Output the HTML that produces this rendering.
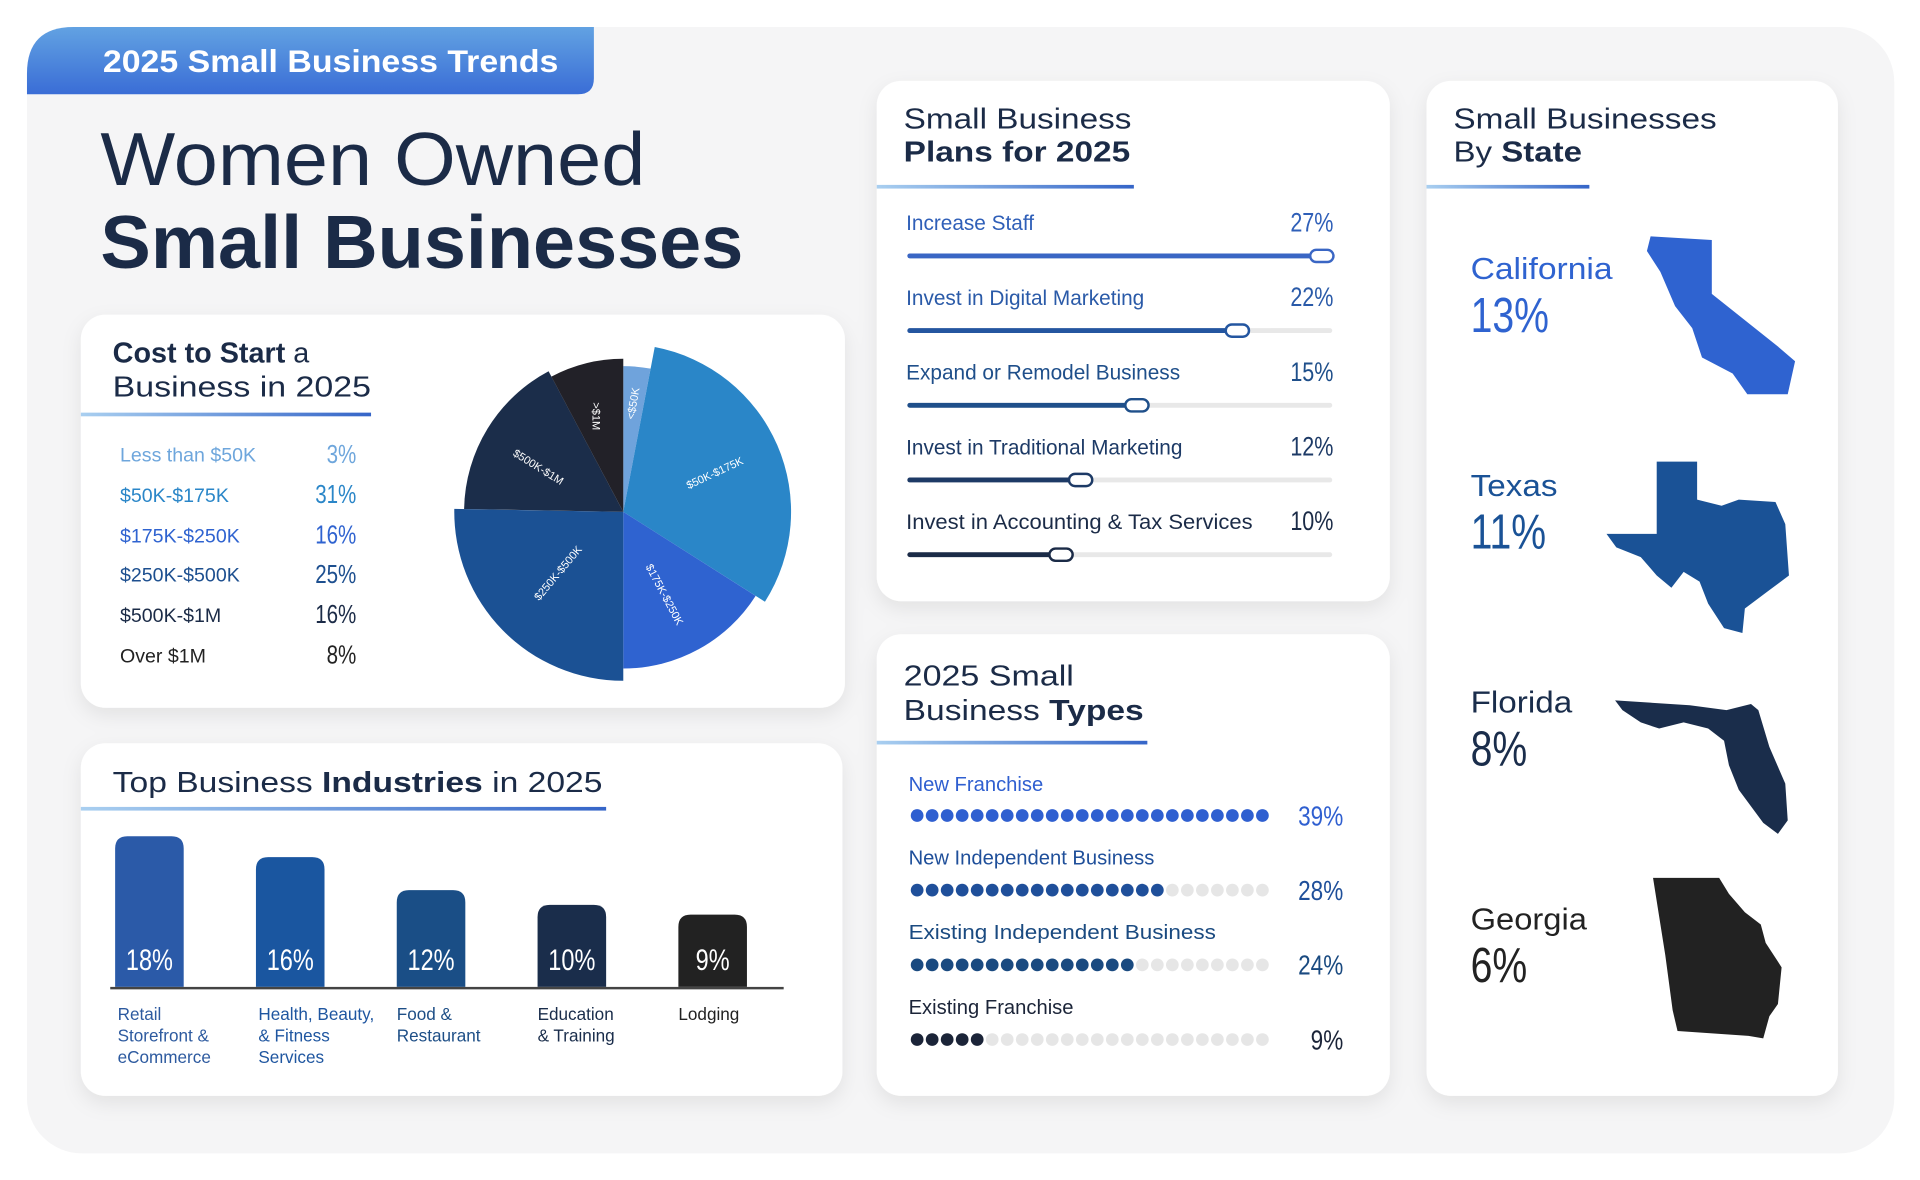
<!DOCTYPE html>
<html><head><meta charset="utf-8"><style>
html,body{margin:0;padding:0;background:#fff;}
svg{display:block;font-family:"Liberation Sans",sans-serif;}
.n text{transform-box:fill-box;transform-origin:right center;transform:scaleX(0.8);}
.nl text{transform-box:fill-box;transform-origin:left center;transform:scaleX(0.8);}
.nc text{transform-box:fill-box;transform-origin:center center;transform:scaleX(0.8);}
</style></head><body>
<svg width="1920" height="1180" viewBox="0 0 1568 963.7" xmlns="http://www.w3.org/2000/svg">
<defs>
<linearGradient id="ban" x1="0" y1="0" x2="0" y2="1"><stop offset="0" stop-color="#62a2e2"/><stop offset="1" stop-color="#3a6dd6"/></linearGradient>
<linearGradient id="ul" x1="0" y1="0" x2="1" y2="0"><stop offset="0" stop-color="#a9cff0"/><stop offset="1" stop-color="#3565c8"/></linearGradient>
<filter id="sh" x="-10%" y="-10%" width="120%" height="130%"><feDropShadow dx="0" dy="6" stdDeviation="8" flood-color="#000" flood-opacity="0.08"/></filter>
</defs>
<rect x="22" y="22" width="1525" height="920" rx="45" fill="#f5f5f6"/>
<path d="M22 77 V60 Q22 22 60 22 H485 V64 Q485 77 472 77 Z" fill="url(#ban)"/>
<text x="84" y="59" textLength="372" lengthAdjust="spacingAndGlyphs" font-size="26" font-weight="bold" fill="#fff">2025 Small Business Trends</text>
<text x="82" y="151" font-size="61" fill="#1b2b47" textLength="445" lengthAdjust="spacingAndGlyphs">Women Owned</text>
<text x="82" y="219" font-size="61" font-weight="bold" fill="#1b2b47" textLength="525" lengthAdjust="spacingAndGlyphs">Small Businesses</text>

<g filter="url(#sh)">
<rect x="66" y="257" width="624" height="321" rx="20" fill="#fff"/>
<rect x="66" y="607" width="622" height="288" rx="20" fill="#fff"/>
<rect x="716" y="66" width="419" height="425" rx="20" fill="#fff"/>
<rect x="716" y="518" width="419" height="377" rx="20" fill="#fff"/>
<rect x="1165" y="66" width="336" height="829" rx="20" fill="#fff"/>
</g>

<!-- Cost card -->
<text x="92" y="296" font-size="23.5" fill="#1b2b47"><tspan font-weight="bold">Cost to Start</tspan> a</text>
<text x="92" y="324" font-size="23.5" fill="#1b2b47" textLength="211" lengthAdjust="spacingAndGlyphs">Business in 2025</text>
<rect x="66" y="337" width="237" height="3" fill="url(#ul)"/>
<g font-size="16">
<text x="98" y="377" fill="#6ea6dc">Less than $50K</text>
<text x="98" y="410" fill="#2a86c8">$50K-$175K</text>
<text x="98" y="443" fill="#2f63d0">$175K-$250K</text>
<text x="98" y="475" fill="#1d4f8f">$250K-$500K</text>
<text x="98" y="508" fill="#1b2b47">$500K-$1M</text>
<text x="98" y="541" fill="#222">Over $1M</text>
</g>
<g class="n" font-size="21" text-anchor="end">
<text x="291" y="378" fill="#6ea6dc">3%</text>
<text x="291" y="411" fill="#2a86c8">31%</text>
<text x="291" y="444" fill="#2f63d0">16%</text>
<text x="291" y="476" fill="#1d4f8f">25%</text>
<text x="291" y="509" fill="#1b2b47">16%</text>
<text x="291" y="542" fill="#222">8%</text>
</g>
<!-- pie -->
<path d="M509 418 L509 299 A119 119 0 0 1 531.3 301.1 Z" fill="#6fa3dc"/>
<path d="M509 418 L534.7 283.4 A137 137 0 0 1 624.7 491.4 Z" fill="#2a86c8"/>
<path d="M509 418 L617.1 486.6 A128 128 0 0 1 509 546 Z" fill="#2f63d0"/>
<path d="M509 418 L509 556 A138 138 0 0 1 371 415.6 Z" fill="#1b5194"/>
<path d="M509 418 L379 415.7 A130 130 0 0 1 448 303.2 Z" fill="#1b2d4a"/>
<path d="M509 418 L450.3 307.6 A125 125 0 0 1 509 293 Z" fill="#222128"/>
<g font-size="9" fill="#fff" text-anchor="middle">
<text transform="translate(520,330) rotate(-80)">&lt;$50K</text>
<text transform="translate(585,389) rotate(-25)">$50K-$175K</text>
<text transform="translate(540,487) rotate(62)">$175K-$250K</text>
<text transform="translate(458,470) rotate(-50)">$250K-$500K</text>
<text transform="translate(438,384) rotate(32)">$500K-$1M</text>
<text transform="translate(484,340) rotate(90)">&gt;$1M</text>
</g>

<!-- Industries -->
<text x="92" y="647" font-size="23.5" fill="#1b2b47" textLength="400" lengthAdjust="spacingAndGlyphs">Top Business <tspan font-weight="bold">Industries</tspan> in 2025</text>
<rect x="66" y="659" width="429" height="3" fill="url(#ul)"/>
<path d="M94 806 V693 Q94 683 104 683 H140 Q150 683 150 693 V806 Z" fill="#2b5aa8"/>
<path d="M209 806 V710 Q209 700 219 700 H255 Q265 700 265 710 V806 Z" fill="#1a56a0"/>
<path d="M324 806 V737 Q324 727 334 727 H370 Q380 727 380 737 V806 Z" fill="#1a4e86"/>
<path d="M439 806 V749 Q439 739 449 739 H485 Q495 739 495 749 V806 Z" fill="#1a2d4b"/>
<path d="M554 806 V757 Q554 747 564 747 H600 Q610 747 610 757 V806 Z" fill="#222"/>
<rect x="90" y="806" width="550" height="2" fill="#444"/>
<g class="nc" font-size="24" fill="#fff" text-anchor="middle">
<text x="122" y="792">18%</text><text x="237" y="792">16%</text><text x="352" y="792">12%</text><text x="467" y="792">10%</text><text x="582" y="792">9%</text>
</g>
<g font-size="14">
<text x="96" y="833" fill="#2d5a9f">Retail<tspan x="96" dy="17.5">Storefront &amp;</tspan><tspan x="96" dy="17.5">eCommerce</tspan></text>
<text x="211" y="833" fill="#1f56a0">Health, Beauty,<tspan x="211" dy="17.5">&amp; Fitness</tspan><tspan x="211" dy="17.5">Services</tspan></text>
<text x="324" y="833" fill="#1d4e86">Food &amp;<tspan x="324" dy="17.5">Restaurant</tspan></text>
<text x="439" y="833" fill="#1a2d4b">Education<tspan x="439" dy="17.5">&amp; Training</tspan></text>
<text x="554" y="833" fill="#222">Lodging</text>
</g>

<!-- Plans -->
<text x="738" y="105" font-size="23.5" fill="#1b2b47" textLength="186" lengthAdjust="spacingAndGlyphs">Small Business</text>
<text x="738" y="132" font-size="23.5" font-weight="bold" fill="#1b2b47" textLength="185" lengthAdjust="spacingAndGlyphs">Plans for 2025</text>
<rect x="716" y="151" width="210" height="3" fill="url(#ul)"/>
<g font-size="17">
<text x="740" y="188" fill="#2f5fb8">Increase Staff</text>
<text x="740" y="249" fill="#2a5aa8">Invest in Digital Marketing</text>
<text x="740" y="310" fill="#1f4f8a">Expand or Remodel Business</text>
<text x="740" y="371" fill="#1d3a66">Invest in Traditional Marketing</text>
<text x="740" y="432" fill="#1b2b47" textLength="283" lengthAdjust="spacingAndGlyphs">Invest in Accounting &amp; Tax Services</text>
</g>
<g class="n" font-size="22" text-anchor="end">
<text x="1089" y="189" fill="#2f5fb8">27%</text>
<text x="1089" y="250" fill="#2a5aa8">22%</text>
<text x="1089" y="311" fill="#1f4f8a">15%</text>
<text x="1089" y="372" fill="#1d3a66">12%</text>
<text x="1089" y="433" fill="#1b2b47">10%</text>
</g>
<g>
<rect x="741" y="207" width="347" height="4" rx="2" fill="#e8e8e8"/><rect x="741" y="207" width="338" height="4" rx="2" fill="#3a66c4"/><rect x="1070" y="204" width="19" height="10" rx="5" fill="#fff" stroke="#3a66c4" stroke-width="2"/>
<rect x="741" y="268" width="347" height="4" rx="2" fill="#e8e8e8"/><rect x="741" y="268" width="269" height="4" rx="2" fill="#2456a0"/><rect x="1001" y="265" width="19" height="10" rx="5" fill="#fff" stroke="#2456a0" stroke-width="2"/>
<rect x="741" y="329" width="347" height="4" rx="2" fill="#e8e8e8"/><rect x="741" y="329" width="187" height="4" rx="2" fill="#1f4f8a"/><rect x="919" y="326" width="19" height="10" rx="5" fill="#fff" stroke="#1f4f8a" stroke-width="2"/>
<rect x="741" y="390" width="347" height="4" rx="2" fill="#e8e8e8"/><rect x="741" y="390" width="141" height="4" rx="2" fill="#1d3a66"/><rect x="873" y="387" width="19" height="10" rx="5" fill="#fff" stroke="#1d3a66" stroke-width="2"/>
<rect x="741" y="451" width="347" height="4" rx="2" fill="#e8e8e8"/><rect x="741" y="451" width="125" height="4" rx="2" fill="#1b2b47"/><rect x="857" y="448" width="19" height="10" rx="5" fill="#fff" stroke="#1b2b47" stroke-width="2"/>
</g>

<!-- Types -->
<text x="738" y="560" font-size="23.5" fill="#1b2b47" textLength="139" lengthAdjust="spacingAndGlyphs">2025 Small</text>
<text x="738" y="588" font-size="23.5" fill="#1b2b47" textLength="196" lengthAdjust="spacingAndGlyphs">Business <tspan font-weight="bold">Types</tspan></text>
<rect x="716" y="605" width="221" height="3" fill="url(#ul)"/>
<g font-size="16.5">
<text x="742" y="646" fill="#2f5fd0">New Franchise</text>
<text x="742" y="706" fill="#1f4f9a">New Independent Business</text>
<text x="742" y="767" fill="#1a4a80" textLength="251" lengthAdjust="spacingAndGlyphs">Existing Independent Business</text>
<text x="742" y="828" fill="#1b2438">Existing Franchise</text>
</g>
<g class="n" font-size="23" text-anchor="end">
<text x="1097" y="674" fill="#2f5fd0">39%</text>
<text x="1097" y="735" fill="#1f4f9a">28%</text>
<text x="1097" y="796" fill="#1a4a80">24%</text>
<text x="1097" y="857" fill="#1b2438">9%</text>
</g>
<g id="dots"></g>

<!-- State -->
<text x="1187" y="105" font-size="23.5" fill="#1b2b47" textLength="215" lengthAdjust="spacingAndGlyphs">Small Businesses</text>
<text x="1187" y="132" font-size="23.5" fill="#1b2b47" textLength="105" lengthAdjust="spacingAndGlyphs">By <tspan font-weight="bold">State</tspan></text>
<rect x="1165" y="151" width="133" height="3" fill="url(#ul)"/>
<g font-size="25">
<text x="1201" y="228" fill="#2f63d0" textLength="116" lengthAdjust="spacingAndGlyphs">California</text>
<text x="1201" y="405" fill="#1a5296" textLength="71" lengthAdjust="spacingAndGlyphs">Texas</text>
<text x="1201" y="582" fill="#1a2d4b" textLength="83" lengthAdjust="spacingAndGlyphs">Florida</text>
<text x="1201" y="759" fill="#222" textLength="95" lengthAdjust="spacingAndGlyphs">Georgia</text>
</g>
<g class="nl" font-size="40">
<text x="1201" y="271" fill="#2f63d0">13%</text>
<text x="1201" y="448" fill="#1a5296">11%</text>
<text x="1201" y="625" fill="#1a2d4b">8%</text>
<text x="1201" y="802" fill="#222">6%</text>
</g>
<path d="M1348 193 L1398 196 L1398 240 L1452 283 L1466 295 L1460 322 L1427 322 L1415 305 L1390 292 L1382 268 L1368 250 L1356 222 L1345 205 Z" fill="#2f63d0"/>
<path d="M1353 377 L1386 377 L1386 408 L1406 413 L1420 408 L1450 410 L1458 428 L1461 470 L1445 482 L1425 497 L1423 517 L1408 513 L1395 493 L1388 475 L1375 467 L1365 480 L1353 470 L1340 455 L1320 447 L1312 436 L1353 436 Z" fill="#1a5296"/>
<path d="M1319 572 L1380 576 L1410 580 L1430 575 L1436 580 L1445 610 L1458 640 L1460 670 L1452 681 L1440 672 L1420 645 L1412 625 L1408 605 L1395 595 L1375 590 L1355 595 L1340 590 L1325 580 Z" fill="#1a2d4b"/>
<path d="M1350 717 L1404 717 L1412 730 L1425 745 L1438 755 L1442 770 L1455 790 L1452 820 L1445 830 L1440 848 L1428 846 L1370 842 L1366 825 L1360 780 Z" fill="#222"/>
</svg>
<script>
(function(){
var g=document.getElementById('dots');var ns='http://www.w3.org/2000/svg';
var rows=[[666,24,'#2f5fd0'],[727,17,'#1f4f9a'],[788,15,'#1a4a80'],[849,5,'#1b2438']];
rows.forEach(function(r){for(var i=0;i<24;i++){var c=document.createElementNS(ns,'circle');c.setAttribute('cx',749+i*12.26);c.setAttribute('cy',r[0]);c.setAttribute('r',5.2);c.setAttribute('fill',i<r[1]?r[2]:'#e6e6e6');g.appendChild(c);}});
})();
</script>
</body></html>
